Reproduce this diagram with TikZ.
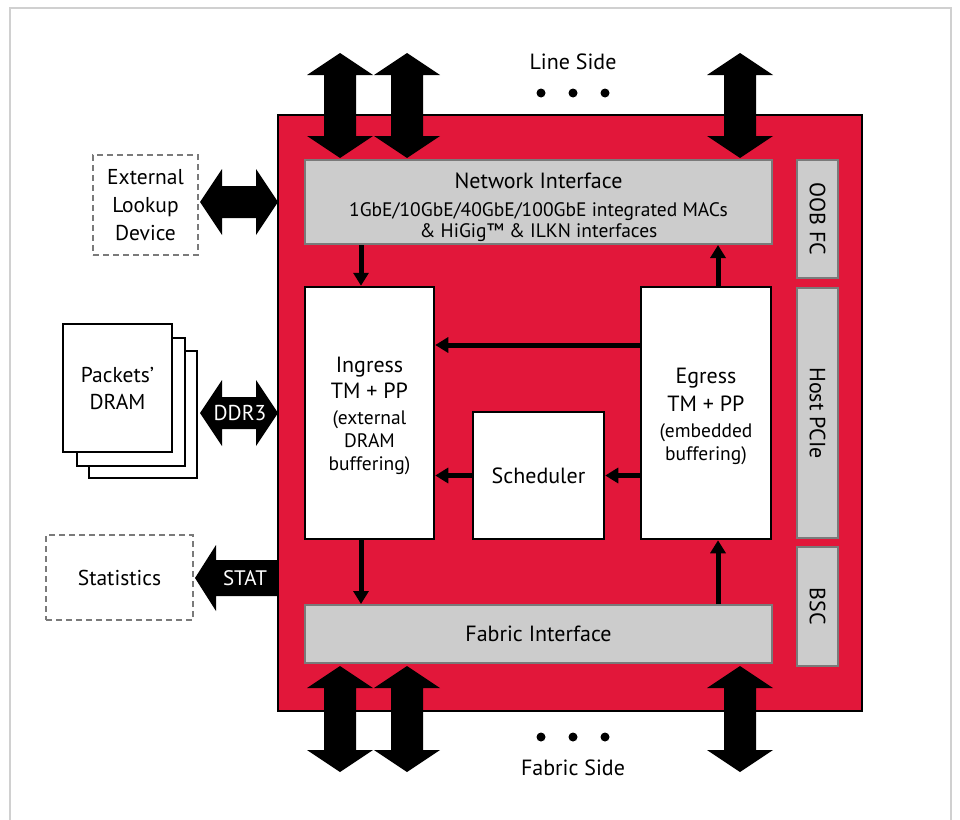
\documentclass[tikz,border=0pt]{standalone}
\usepackage{fontspec}
\setmainfont{PT Sans}
\usetikzlibrary{arrows.meta}
\definecolor{chipred}{HTML}{E2173A}
\definecolor{boxgray}{HTML}{CCCCCC}
\definecolor{edgegray}{HTML}{7A7A7A}
\definecolor{framegray}{HTML}{D0D0D0}
\newcommand\smalltxt{\fontsize{19.5}{24}\selectfont}
\tikzset{
  blockbox/.style={draw=black, fill=white, line width=2.5pt, inner sep=0pt},
  ifbox/.style={draw=edgegray, fill=boxgray, line width=2pt, inner sep=0pt},
  dashbox/.style={draw=edgegray, dash pattern=on 6pt off 4pt, line width=2pt, inner sep=0pt},
  flow/.style={line width=5pt, -{Triangle[length=13pt,width=15pt]}},
  bigfont/.style={font=\fontsize{22}{26}\selectfont},
}
% vertical double block arrow: centre x, top tip, bottom tip
\newcommand\vdarrow[3]{%
  \fill (#1,#2) -- (#1+33,#2+22) -- (#1+16,#2+22) -- (#1+16,#3-22) -- (#1+33,#3-22)
    -- (#1,#3) -- (#1-33,#3-22) -- (#1-16,#3-22) -- (#1-16,#2+22) -- (#1-33,#2+22) -- cycle;}
% horizontal double block arrow: left tip, right tip, centre y, half shaft
\newcommand\hdarrow[4]{%
  \fill (#1,#3) -- (#1+22,#3-33) -- (#1+22,#3-#4) -- (#2-22,#3-#4) -- (#2-22,#3-33)
    -- (#2,#3) -- (#2-22,#3+33) -- (#2-22,#3+#4) -- (#1+22,#3+#4) -- (#1+22,#3+33) -- cycle;}
\begin{document}
\begin{tikzpicture}[x=1pt, y=-1pt]
\useasboundingbox (0,0) rectangle (960,819);
% frame
\draw[framegray, line width=2pt] (10,8) rectangle (951,840);

% chip
\node[draw=black, fill=chipred, line width=2.5pt, minimum width=584, minimum height=596, inner sep=0pt] (chip) at (570,413) {};

% line side and fabric side
\vdarrow{340}{53}{158}
\vdarrow{407}{53}{158}
\vdarrow{740}{53}{158}
\vdarrow{340}{666}{772}
\vdarrow{407}{666}{772}
\vdarrow{740}{666}{772}
\node[bigfont] (lineside) at (573,62) {Line Side};
\node[bigfont] (fabricside) at (573,768) {Fabric Side};
\foreach \x in {541,573,605} {
  \fill (\x,93) circle (4.5);
  \fill (\x,737) circle (4.5);
}

% interfaces
\node[ifbox, minimum width=467, minimum height=84] (netif) at (538.5,202) {};
\node[align=center, bigfont] (netiftext) at ([yshift=-5.5]netif.center)
  {Network Interface\\[2pt]
   {\smalltxt 1GbE/10GbE/40GbE/100GbE integrated MACs}\\[-5pt]
   {\smalltxt \& HiGig™ \& ILKN interfaces}};
\node[ifbox, minimum width=467, minimum height=58, bigfont] (fabif) at (538.5,634) {Fabric Interface};
\node[ifbox, rotate=-90, minimum width=118, minimum height=41, bigfont] (oobfc) at (817.5,219) {OOB FC};
\node[ifbox, rotate=-90, minimum width=250, minimum height=41, bigfont] (hostpcie) at (817.5,413) {Host PCIe};
\node[ifbox, rotate=-90, minimum width=119, minimum height=41, bigfont] (bsc) at (817.5,606.5) {BSC};

% processing blocks
\node[blockbox, minimum width=129, minimum height=252] (ingress) at (369.5,413) {};
\node[align=center, bigfont] (ingresstext) at ([yshift=-3]ingress.center)
  {Ingress\\TM + PP\\{\smalltxt (external}\\[-3pt]{\smalltxt DRAM}\\[-3pt]{\smalltxt buffering)}};
\node[blockbox, minimum width=130, minimum height=252] (egress) at (706,413) {};
\node[align=center, bigfont] (egresstext) at ([yshift=-3]egress.center)
  {Egress\\[2pt]TM + PP\\{\smalltxt (embedded}\\[-3pt]{\smalltxt buffering)}};
\node[blockbox, minimum width=131, minimum height=127, bigfont] (sched) at (538.5,475.5) {Scheduler};

% internal flows
\coordinate (xl) at (361,0);
\coordinate (xr) at (718,0);
\coordinate (yt) at (0,345);
\draw[flow] (netif.south -| xl) -- (ingress.north -| xl);
\draw[flow] (egress.north -| xr) -- (netif.south -| xr);
\draw[flow] (egress.west |- yt) -- (ingress.east |- yt);
\draw[flow] (sched.west) -- (ingress.east |- sched.west);
\draw[flow] (egress.west |- sched.east) -- (sched.east);
\draw[flow] (ingress.south -| xl) -- (fabif.north -| xl);
\draw[flow] (fabif.north -| xr) -- (egress.south -| xr);

% external lookup
\node[dashbox, minimum width=105, minimum height=100, align=center, font=\fontsize{21.5}{28}\selectfont] (extlookup) at (145.5,205) {External\\Lookup\\Device};
\hdarrow{200}{278}{202}{16}

% packet memory
\draw[fill=white, line width=2pt] (89,351) rectangle (197,478);
\draw[fill=white, line width=2pt] (77,338) rectangle (185,466);
\node[draw=black, fill=white, line width=2pt, minimum width=109, minimum height=128, inner sep=0pt, align=center, font=\fontsize{21.5}{27}\selectfont] (dram) at (117.5,388) {Packets’\\DRAM};
\hdarrow{200}{278}{413}{16}
\node[white, font=\fontsize{21.5}{26}\selectfont] (ddr) at (240,413) {DDR3};

% statistics
\node[dashbox, minimum width=147, minimum height=85, font=\fontsize{21.5}{26}\selectfont] (stats) at (119.5,577.5) {Statistics};
\fill (195,578) -- (216,545) -- (216,560) -- (278,560) -- (278,596) -- (216,596) -- (216,611) -- cycle;
\node[white, font=\fontsize{21}{26}\selectfont] (stat) at (245,578) {STAT};
\end{tikzpicture}
\end{document}
